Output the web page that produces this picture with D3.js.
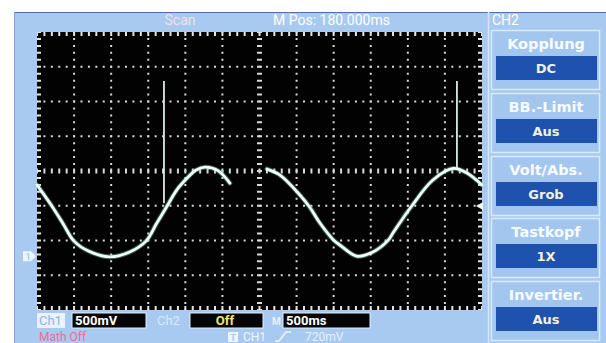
<!DOCTYPE html>
<html>
<head>
<meta charset="utf-8">
<script src="https://cdn.jsdelivr.net/npm/d3@7"></script>
<style>
  body { margin: 0; background: #fff; }
  svg { display: block; }
</style>
</head>
<body>
<div id="scope"></div>
<script>
// trace before the scan gap: time in ms from left edge, level in mV above ch1 ground
const seg1Time = [0, 202, 350, 499, 700, 984, 1250, 1469, 1610, 1752, 1890, 2022, 2140, 2265, 2440, 2600];
const seg1Volt = [1025, 718, 470, 216, 70, -10, 60, 216, 465, 718, 960, 1120, 1235, 1280, 1230, 1050];
// trace after the gap
const seg2Time = [3101, 3276, 3545, 3680, 3815, 4000, 4085, 4309, 4529, 4736, 4799, 5050, 5338, 5612, 5796, 6000];
const seg2Volt = [1253, 1166, 880, 700, 476, 230, 160, 0, 59, 230, 332, 718, 1095, 1262, 1196, 1023];
// glitches
const spikeTime = [1712, 5662];
const spikeBase = [760, 1262];
const spikeTop = [2520, 2520];

const menuLabels = ["Kopplung", "BB.-Limit", "Volt/Abs.", "Tastkopf", "Invertier."];
const menuValues = ["DC", "Aus", "Grob", "1X", "Aus"];

const timePerDiv = 500;   // ms
const voltPerDiv = 500;   // mV
const divsX = 12, divsY = 8;
const groundDiv = -2.45;  // ch1 ground marker, divisions from centre
const trigLevel = 720;    // mV

const W = 606, H = 343;
const plot = { left: 37, top: 32, right: 482, bottom: 310 };
const bg = "#a8caf0";
const uiFont = "Roboto, 'DejaVu Sans', sans-serif";
const menuFont = "'DejaVu Sans', sans-serif";

const svg = d3.select("#scope").append("svg")
  .attr("width", W).attr("height", H);

svg.append("rect").attr("width", W).attr("height", H).attr("fill", "#fff");
svg.append("rect").attr("x", 14).attr("y", 12).attr("width", W - 14).attr("height", H - 12)
  .attr("fill", bg);
svg.append("line").attr("x1", 14).attr("x2", W).attr("y1", 12.5).attr("y2", 12.5)
  .attr("stroke", "#4d74aa").attr("stroke-width", 1);
svg.append("line").attr("x1", 14.5).attr("x2", 14.5).attr("y1", 12).attr("y2", H)
  .attr("stroke", "#7fa3d2").attr("stroke-width", 1);

const x = d3.scaleLinear()
  .domain([0, divsX * timePerDiv])
  .range([plot.left, plot.right]);
const y = d3.scaleLinear()
  .domain([(-divsY / 2 - groundDiv) * voltPerDiv, (divsY / 2 - groundDiv) * voltPerDiv])
  .range([plot.bottom, plot.top]);

// ---- graticule
const grid = svg.append("g");
grid.append("rect")
  .attr("x", plot.left).attr("y", plot.top)
  .attr("width", plot.right - plot.left).attr("height", plot.bottom - plot.top)
  .attr("fill", "#020202");

const subX = (plot.right - plot.left) / (divsX * 5);
const subY = (plot.bottom - plot.top) / (divsY * 5);
const yDiv = i => y.domain()[0] + i * voltPerDiv;

d3.range(1, divsX).forEach(i => {
  grid.append("line")
    .attr("x1", x(i * timePerDiv)).attr("x2", x(i * timePerDiv))
    .attr("y1", plot.top).attr("y2", plot.bottom)
    .attr("stroke", "#d6dad7")
    .attr("stroke-width", i === divsX / 2 ? 5 : 2)
    .attr("stroke-dasharray", `2 ${subY - 2}`)
    .attr("stroke-dashoffset", 1);
});
d3.range(1, divsY).forEach(i => {
  grid.append("line")
    .attr("x1", plot.left).attr("x2", plot.right)
    .attr("y1", y(yDiv(i))).attr("y2", y(yDiv(i)))
    .attr("stroke", "#d6dad7")
    .attr("stroke-width", i === divsY / 2 ? 5 : 2)
    .attr("stroke-dasharray", `2 ${subX - 2}`)
    .attr("stroke-dashoffset", 1);
});
// ruler ticks on the frame
[[plot.left, plot.top + 2, plot.right, plot.top + 2, subX],
 [plot.left, plot.bottom - 2, plot.right, plot.bottom - 2, subX],
 [plot.left + 2, plot.top, plot.left + 2, plot.bottom, subY],
 [plot.right - 2, plot.top, plot.right - 2, plot.bottom, subY]].forEach(d => {
  grid.append("line")
    .attr("x1", d[0]).attr("y1", d[1]).attr("x2", d[2]).attr("y2", d[3])
    .attr("stroke", "#e2e6e3").attr("stroke-width", 4)
    .attr("stroke-dasharray", `2 ${d[4] - 2}`)
    .attr("stroke-dashoffset", 1);
});

// ---- trace
const line = d3.line()
  .x(d => x(d[0])).y(d => y(d[1]))
  .curve(d3.curveCatmullRom.alpha(0.5));
const segments = [d3.zip(seg1Time, seg1Volt), d3.zip(seg2Time, seg2Volt)];

const trace = svg.append("g");
trace.selectAll(".glow").data(segments).join("path")
  .attr("class", "glow")
  .attr("d", line).attr("fill", "none")
  .attr("stroke", "#6fcab4").attr("stroke-opacity", 0.45)
  .attr("stroke-width", 4.8).attr("stroke-linecap", "round");
trace.selectAll(".wave").data(segments).join("path")
  .attr("class", "wave")
  .attr("d", line).attr("fill", "none")
  .attr("stroke", "#f3fff8").attr("stroke-width", 2.8)
  .attr("stroke-linecap", "round");
trace.selectAll(".spike").data(d3.range(spikeTime.length)).join("line")
  .attr("class", "spike")
  .attr("x1", i => x(spikeTime[i])).attr("x2", i => x(spikeTime[i]))
  .attr("y1", i => y(spikeBase[i])).attr("y2", i => y(spikeTop[i]))
  .attr("stroke", "#e6f6f0").attr("stroke-width", 1.7);

// ground marker (left) and trigger level marker (right)
const gy = y(0);
svg.append("path")
  .attr("d", `M23,${gy - 5}H31L36,${gy}L31,${gy + 5}H23Z`)
  .attr("fill", "#eef5fd");
svg.append("text").attr("x", 28).attr("y", gy + 3.5)
  .attr("text-anchor", "middle").attr("font-family", uiFont)
  .attr("font-size", 9).attr("font-weight", "bold").attr("fill", "#a8caf0").text("1");
const ty = y(trigLevel);
svg.append("path")
  .attr("d", `M476,${ty}L483,${ty - 4}V${ty + 4}Z`)
  .attr("fill", "#f2f8f4");

// ---- top status bar
svg.append("text").attr("x", 180).attr("y", 25).attr("text-anchor", "middle")
  .attr("font-family", uiFont).attr("font-size", 14).attr("fill", "#f4dfe9").text("Scan");
svg.append("text").attr("x", 273).attr("y", 25)
  .attr("font-family", uiFont).attr("font-size", 14).attr("fill", "#ffffff")
  .text("M Pos: 180.000ms");
svg.append("text").attr("x", 492).attr("y", 25)
  .attr("font-family", uiFont).attr("font-size", 14).attr("fill", "#ffffff").text("CH2");

// ---- side menu
svg.append("line").attr("x1", 488.5).attr("x2", 488.5).attr("y1", 12).attr("y2", H)
  .attr("stroke", "#d6e7f9").attr("stroke-width", 1.5);
const boxTop = [30, 93, 156, 218, 281];
const menu = svg.append("g").selectAll("g").data(menuLabels).join("g")
  .attr("transform", (d, i) => `translate(491,${boxTop[i]})`);
menu.append("rect").attr("x", 0.5).attr("y", 0.5).attr("width", 108).attr("height", 59)
  .attr("fill", "#a3c6ee").attr("stroke", "#d8e9fb").attr("stroke-width", 1.5);
menu.append("text").attr("x", 55).attr("y", 19).attr("text-anchor", "middle")
  .attr("font-family", menuFont).attr("font-weight", "bold").attr("font-size", 14.5)
  .attr("fill", "#f8fbff").text(d => d);
menu.append("rect").attr("x", 5).attr("y", 26).attr("width", 101).attr("height", 24)
  .attr("fill", "#1e52ae");
menu.append("text").attr("x", 55).attr("y", 43).attr("text-anchor", "middle")
  .attr("font-family", menuFont).attr("font-weight", "bold").attr("font-size", 13)
  .attr("fill", "#f3f1da").text((d, i) => menuValues[i]);

// ---- bottom status bar
const bottom = svg.append("g").attr("font-family", uiFont).attr("font-weight", "bold")
  .attr("font-size", 13);
bottom.append("rect").attr("x", 37).attr("y", 313).attr("width", 28).attr("height", 15)
  .attr("fill", "#eaf2fc");
bottom.append("text").attr("x", 39).attr("y", 325).attr("fill", "#8db3e3")
  .attr("font-weight", "normal").text("Ch1");
[[72, 146], [190, 263], [283, 370]].forEach(b => {
  bottom.append("rect").attr("x", b[0]).attr("y", 313).attr("width", b[1] - b[0]).attr("height", 15)
    .attr("fill", "#050505").attr("stroke", "#e2edf9").attr("stroke-width", 1);
});
bottom.append("text").attr("x", 75).attr("y", 325).attr("fill", "#ffffff").text("500mV");
bottom.append("text").attr("x", 157).attr("y", 325).attr("fill", "#dbe9f8")
  .attr("font-weight", "normal").text("Ch2");
bottom.append("text").attr("x", 225).attr("y", 325).attr("text-anchor", "middle")
  .attr("fill", "#f5e66c").text("Off");
bottom.append("text").attr("x", 272).attr("y", 325).attr("fill", "#e8f0fa")
  .attr("font-size", 10).text("M");
bottom.append("text").attr("x", 286).attr("y", 325).attr("fill", "#ffffff").text("500ms");

const row2 = 341;
bottom.append("text").attr("x", 39).attr("y", row2).attr("fill", "#f06d8e")
  .attr("font-weight", "normal").attr("font-size", 12).text("Math Off");
bottom.append("rect").attr("x", 228).attr("y", row2 - 9).attr("width", 10).attr("height", 10)
  .attr("fill", "#eef5fd");
bottom.append("text").attr("x", 233).attr("y", row2 - 0.5).attr("text-anchor", "middle")
  .attr("font-size", 9).attr("fill", "#a8caf0").text("T");
bottom.append("text").attr("x", 243).attr("y", row2).attr("fill", "#eef5fd")
  .attr("font-weight", "normal").attr("font-size", 12).text("CH1");
bottom.append("path").attr("d", `M275,${row2}H279L286,${row2 - 9}H291`)
  .attr("fill", "none").attr("stroke", "#eef5fd").attr("stroke-width", 1.5);
bottom.append("text").attr("x", 305).attr("y", row2).attr("fill", "#e8f0fa")
  .attr("font-weight", "normal").attr("font-size", 12).text("720mV");
</script>
</body>
</html>
